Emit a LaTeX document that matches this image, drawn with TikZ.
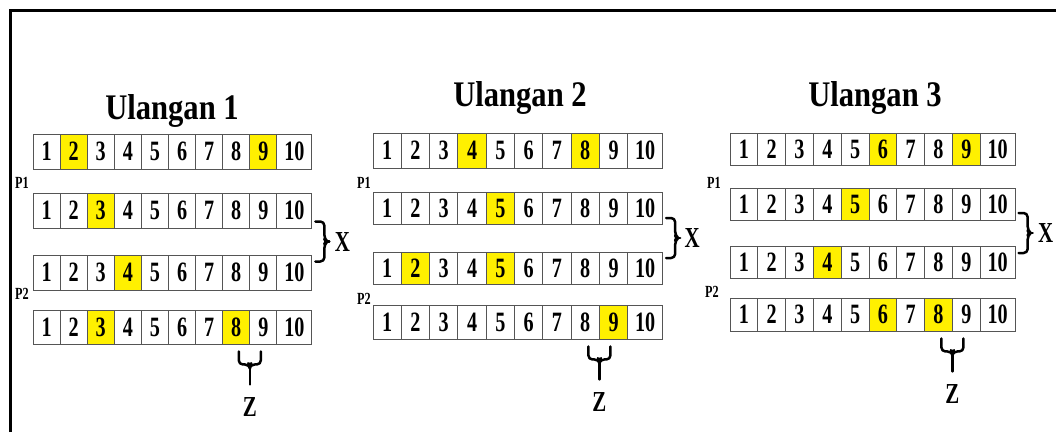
\documentclass[tikz,border=0pt]{standalone}
\usepackage{fontspec}
\setmainfont{Liberation Serif}
\newfontfamily\digfont[FakeStretch=0.72]{Liberation Serif}
\newfontfamily\titfont[FakeStretch=0.85]{Liberation Serif}
\usetikzlibrary{calc}
\definecolor{hl}{RGB}{255,240,0}
\definecolor{edge}{RGB}{85,85,85}
\tikzset{
  cell/.style={draw=edge, line width=0.9pt, inner sep=0pt,
    font={\digfont\bfseries\fontsize{28pt}{28pt}\selectfont}},
  title/.style={inner sep=0pt, font={\titfont\bfseries\fontsize{36pt}{36pt}\selectfont}},
  plab/.style={inner sep=0pt, font={\digfont\bfseries\fontsize{17pt}{17pt}\selectfont}},
  blab/.style={inner sep=0pt, font={\digfont\bfseries\fontsize{29pt}{29pt}\selectfont}},
  brc/.style={line width=2.5pt, line cap=round, line join=round},
  frame/.style={line width=3pt}
}
% name, x0, top, bottom, cell width, highlight a, highlight b
\newcommand{\cellrow}[7]{%
  \foreach \i in {1,...,10}{%
    \ifnum\i<10
      \pgfmathsetmacro\cw{#5}\pgfmathsetmacro\cl{#2+(\i-1)*#5}%
    \else
      \pgfmathsetmacro\cw{35}\pgfmathsetmacro\cl{#2+9*#5}%
    \fi
    \pgfmathsetmacro\cx{\cl+\cw/2}%
    \pgfmathsetmacro\cy{(#3+#4)/2}%
    \pgfmathsetmacro\ch{#4-#3}%
    \def\fc{white}%
    \ifnum\i=#6 \def\fc{hl}\fi
    \ifnum\i=#7 \def\fc{hl}\fi
    \node[cell, fill=\fc, minimum width=\cw pt, minimum height=\ch pt] (#1c\i) at (\cx,\cy) {\i};
  }%
}
\newcommand{\xbrace}[4]{% upper cell, lower cell, name, label offset
  \coordinate (#3m) at ($(#1.south east)!0.5!(#2.north east)$);
  \draw[brc, rounded corners=4pt] ($(#3m)+(3,-20)$) -- ++(9,0) -- ++(0,17.5) -- ++(3,2.5) -- ++(-3,2.5) -- ++(0,17.5) -- ++(-9,0);
  \draw[brc] ($(#3m)+(14,0)$) -- ++(3,0);
  \node[blab] (#3) at ($(#3m)+(#4,0)$) {X};
}
\newcommand{\zbrace}[3]{% left cell, right cell, name
  \coordinate (#3m) at ($(#1.south)!0.5!(#2.south)$);
  \draw[brc, rounded corners=4pt] ($(#3m)+(-11,7)$) -- ++(0,13) -- ++(10,0) -- ++(1,2.5) -- ++(1,-2.5) -- ++(10,0) -- ++(0,-13);
  \draw[brc] ($(#3m)+(0,22)$) -- ++(0,18);
  \node[blab] (#3) at ($(#3m)+(0,63)$) {Z};
}
\begin{document}
\begin{tikzpicture}[x=1pt, y=-1pt]
\useasboundingbox[fill=white] (0,0) rectangle (1056,432);
\draw[frame] (10.5,432) -- (10.5,10.5) -- (1056,10.5);

% titles
\node[title] (t1) at (172,111) {Ulangan 1};
\node[title] (t2) at (520,98) {Ulangan 2};
\node[title] (t3) at (875,98) {Ulangan 3};

% panel 1
\cellrow{a1}{33}{134}{169}{27.1}{2}{9}
\cellrow{a2}{33}{193}{228}{27.1}{3}{0}
\cellrow{a3}{33}{255}{290}{27.1}{4}{0}
\cellrow{a4}{33}{310}{344}{27.1}{3}{8}
\node[plab] (ap1) at (22,183) {P1};
\node[plab] (ap2) at (22,294) {P2};
\xbrace{a2c10}{a3c10}{ax}{30}
\zbrace{a4c8}{a4c9}{az}

% panel 2
\cellrow{b1}{373}{133}{168}{28.3}{4}{8}
\cellrow{b2}{373}{192}{224}{28.3}{5}{0}
\cellrow{b3}{373}{252}{284}{28.3}{2}{5}
\cellrow{b4}{373}{305}{339}{28.3}{9}{0}
\node[plab] (bp1) at (364,183) {P1};
\node[plab] (bp2) at (364,299) {P2};
\xbrace{b2c10}{b3c10}{bx}{29}
\zbrace{b4c8}{b4c9}{bz}

% panel 3
\cellrow{c1}{730}{133}{165}{27.8}{6}{9}
\cellrow{c2}{730}{188}{220}{27.8}{5}{0}
\cellrow{c3}{730}{246}{278}{27.8}{4}{0}
\cellrow{c4}{730}{298}{331}{27.8}{6}{8}
\node[plab] (cp1) at (714,183) {P1};
\node[plab] (cp2) at (712,292) {P2};
\xbrace{c2c10}{c3c10}{cx}{30}
\zbrace{c4c8}{c4c9}{cz}
\end{tikzpicture}
\end{document}
